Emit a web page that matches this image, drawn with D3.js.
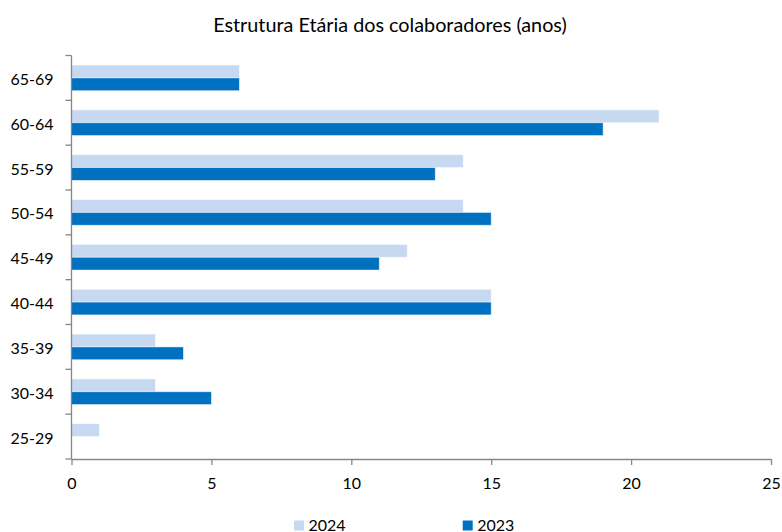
<!DOCTYPE html>
<html>
<head>
<meta charset="utf-8">
<script src="https://cdn.jsdelivr.net/npm/d3@7/dist/d3.min.js"></script>
<style>
  html, body { margin: 0; padding: 0; background: #fff; }
  svg { display: block; }
  text { font-family: Lato, "Open Sans", sans-serif; fill: #000; }
</style>
</head>
<body>
<svg id="chart" width="782" height="532"></svg>
<script>
// Age brackets, top to bottom
const categories = ["65-69", "60-64", "55-59", "50-54", "45-49", "40-44", "35-39", "30-34", "25-29"];
const series2024 = [6, 21, 14, 14, 12, 15, 3, 3, 1];
const series2023 = [6, 19, 13, 15, 11, 15, 4, 5, 0];
const xTicks = [0, 5, 10, 15, 20, 25];
const seriesNames = ["2024", "2023"];
const colors = ["#c6d9f1", "#0070c0"];
const title = "Estrutura Etária dos colaboradores (anos)";

const svg = d3.select("#chart");
const margin = { left: 71.5, right: 11, top: 55.5, bottom: 73 };
const W = 782, H = 532;
const axisColor = "#868686";
const fontSize = 16;

const x = d3.scaleLinear().domain([0, 25]).range([margin.left, W - margin.right]);
const y = d3.scaleBand().domain(categories).range([margin.top, H - margin.bottom]).paddingInner(0).paddingOuter(0);
const bandInner = d3.scaleBand().domain(seriesNames).range([0, y.bandwidth()]).paddingInner(0).paddingOuter(0.75);

const data = categories.map((c, i) => ({ cat: c, values: [series2024[i], series2023[i]] }));

// Bars
const groups = svg.append("g").selectAll("g").data(data).join("g")
  .attr("transform", d => `translate(0,${y(d.cat)})`);
groups.selectAll("rect")
  .data(d => d.values.map((v, k) => ({ name: seriesNames[k], v, k })))
  .join("rect")
  .attr("x", x(0))
  .attr("y", d => bandInner(d.name))
  .attr("width", d => x(d.v) - x(0))
  .attr("height", bandInner.bandwidth())
  .attr("fill", d => colors[d.k])
  .attr("stroke", "#ffffff")
  .attr("stroke-opacity", 0.6)
  .attr("stroke-width", 0.8);

// X axis
const xAxis = svg.append("g")
  .attr("transform", `translate(0,${H - margin.bottom})`)
  .call(d3.axisBottom(x).tickValues(xTicks).tickSize(6).tickSizeOuter(0));
xAxis.select(".domain").attr("stroke", axisColor).attr("stroke-width", 1.3);
xAxis.selectAll(".tick line").attr("stroke", axisColor).attr("stroke-width", 1.3);
xAxis.selectAll(".tick text")
  .attr("y", 29.5).attr("dy", null)
  .attr("font-size", fontSize)
  .attr("font-family", "Lato, 'Open Sans', sans-serif")
  .attr("fill", "#000");

// Y axis: ticks sit on band boundaries
const yAxisG = svg.append("g").attr("transform", `translate(${margin.left},0)`);
yAxisG.append("line")
  .attr("x1", 0).attr("x2", 0)
  .attr("y1", margin.top).attr("y2", H - margin.bottom)
  .attr("stroke", axisColor).attr("stroke-width", 1.3);
const boundaries = categories.map(c => y(c)).concat([H - margin.bottom]);
yAxisG.selectAll("line.tk").data(boundaries).join("line")
  .attr("class", "tk")
  .attr("x1", -6).attr("x2", 0)
  .attr("y1", d => d).attr("y2", d => d)
  .attr("stroke", axisColor).attr("stroke-width", 1.3);
yAxisG.selectAll("text").data(categories).join("text")
  .attr("x", -18)
  .attr("y", d => y(d) + y.bandwidth() / 2 + 7)
  .attr("text-anchor", "end")
  .attr("font-size", fontSize)
  .text(d => d);

// Title
svg.append("text")
  .attr("x", 390).attr("y", 31.5)
  .attr("text-anchor", "middle")
  .attr("font-size", 19.8)
  .text(title);

// Legend
const legendX = [294, 462.7];
const legend = svg.append("g").selectAll("g").data(seriesNames).join("g")
  .attr("transform", (d, i) => `translate(${legendX[i]},520.5)`);
legend.append("rect").attr("width", 10).attr("height", 10).attr("fill", (d, i) => colors[i]);
legend.append("text").attr("x", 14.5).attr("y", 10).attr("font-size", fontSize).text(d => d);
</script>
</body>
</html>
